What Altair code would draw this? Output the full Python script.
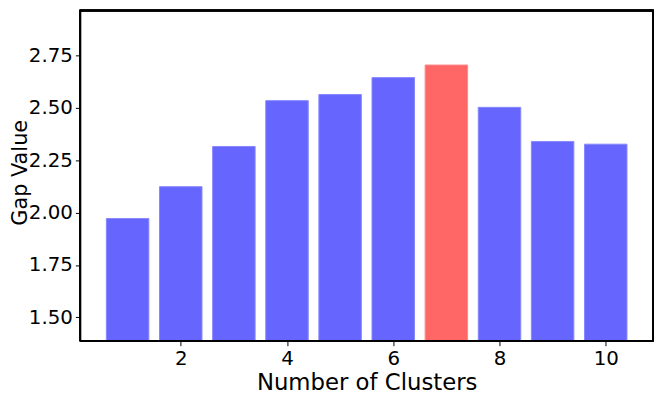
import altair as alt
import pandas as pd

clusters = [1, 2, 3, 4, 5, 6, 7, 8, 9, 10]
gap_values = [1.972, 2.124, 2.316, 2.535, 2.564, 2.645, 2.705, 2.503, 2.340, 2.327]
best_k = 7

W, H = 578, 334

df = pd.DataFrame({"k": clusters, "gap": gap_values})
df["best"] = df["k"] == best_k

x_scale = alt.Scale(domain=[0.11, 10.89], nice=False, zero=False)
y_scale = alt.Scale(domain=[1.388, 2.969], nice=False, zero=False)

font = "DejaVu Sans"

bars = alt.Chart(df).transform_calculate(
    x0="datum.k - 0.4", x1="datum.k + 0.4", base="0"
).mark_rect(clip=True, strokeWidth=1).encode(
    x=alt.X("x0:Q", scale=x_scale,
            axis=alt.Axis(values=[2, 4, 6, 8, 10], format="d", title="Number of Clusters",
                          grid=False, labelFontSize=20, titleFontSize=23,
                          labelFont=font, titleFont=font, labelColor="black", titleColor="black",
                          titleFontWeight="normal", tickSize=5, tickColor="black",
                          domainColor="black", labelPadding=3, titlePadding=3)),
    x2="x1:Q",
    y=alt.Y("gap:Q", scale=y_scale,
            axis=alt.Axis(values=[1.5, 1.75, 2.0, 2.25, 2.5, 2.75], format=".2f", title="Gap Value",
                          grid=False, labelFontSize=20, titleFontSize=21,
                          labelFont=font, titleFont=font, labelColor="black", titleColor="black",
                          titleFontWeight="normal", tickSize=5, tickColor="black",
                          domainColor="black", labelPadding=3,
                          titleX=-60, titleY=H / 2 - 3, titleBaseline="middle", titleAngle=270)),
    y2="base:Q",
    fill=alt.condition(alt.datum.best, alt.value("#FF6666"), alt.value("#6666FF")),
    stroke=alt.condition(alt.datum.best, alt.value("#FF8888"), alt.value("#8888FF")),
)

frame = alt.Chart(df).mark_rect(fill=None, stroke="black", strokeWidth=1.3).encode(
    x=alt.value(0), x2=alt.value(W), y=alt.value(0.7), y2=alt.value(H)
)

chart = alt.layer(bars, frame).properties(
    width=W, height=H,
    autosize=alt.AutoSizeParams(type="none"),
    padding={"left": 73, "top": 0, "right": 3, "bottom": 57},
).configure_view(stroke=None)

chart.save("out.html", embed_options={"renderer": "svg", "actions": False})
